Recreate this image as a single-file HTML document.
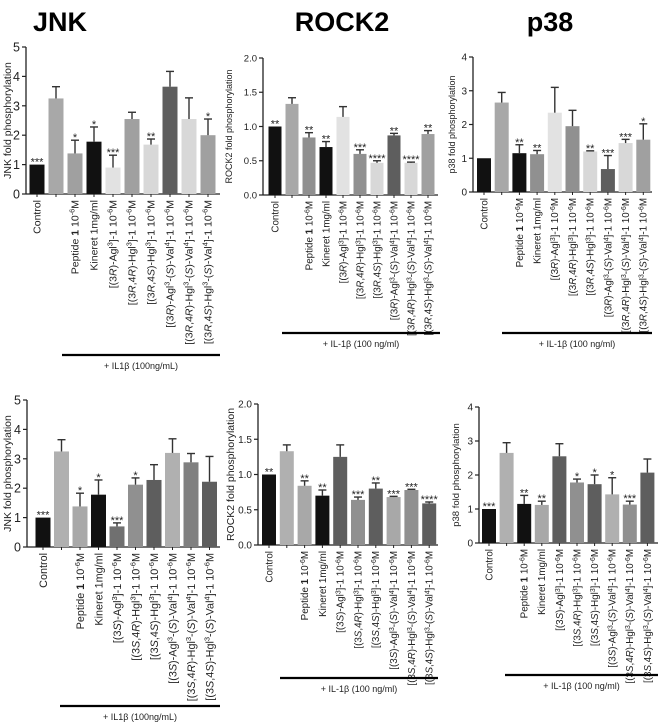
<!DOCTYPE html>
<html><head><meta charset="utf-8"><style>
html,body{margin:0;padding:0;background:#fff;}
svg{display:block;font-family:"Liberation Sans",sans-serif;}
</style></head><body>
<svg id="fig" width="661" height="725" viewBox="0 0 661 725">
<text x="60" y="31" font-size="27" font-weight="bold" text-anchor="middle">JNK</text>
<text x="342" y="31" font-size="27" font-weight="bold" text-anchor="middle">ROCK2</text>
<text x="550" y="31" font-size="27" font-weight="bold" text-anchor="middle">p38</text>
</svg>
<script>
const labelsR = ["Control","","Peptide <b>1</b> 10<sup>-6</sup>M","Kineret 1mg/ml","[(3<i>R</i>)-Agl<sup>3</sup>]-1 10<sup>-6</sup>M","[(3<i>R</i>,4<i>R</i>)-Hgl<sup>3</sup>]-1 10<sup>-6</sup>M","[(3<i>R</i>,4<i>S</i>)-Hgl<sup>3</sup>]-1 10<sup>-6</sup>M","[(3<i>R</i>)-Agl<sup>3</sup>-(<i>S</i>)-Val<sup>4</sup>]-1 10<sup>-6</sup>M","[(3<i>R</i>,4<i>R</i>)-Hgl<sup>3</sup>-(<i>S</i>)-Val<sup>4</sup>]-1 10<sup>-6</sup>M","[(3<i>R</i>,4<i>S</i>)-Hgl<sup>3</sup>-(<i>S</i>)-Val<sup>4</sup>]-1 10<sup>-6</sup>M"];
const labelsS = ["Control","","Peptide <b>1</b> 10<sup>-6</sup>M","Kineret 1mg/ml","[(3<i>S</i>)-Agl<sup>3</sup>]-1 10<sup>-6</sup>M","[(3<i>S</i>,4<i>R</i>)-Hgl<sup>3</sup>]-1 10<sup>-6</sup>M","[(3<i>S</i>,4<i>S</i>)-Hgl<sup>3</sup>]-1 10<sup>-6</sup>M","[(3<i>S</i>)-Agl<sup>3</sup>-(<i>S</i>)-Val<sup>4</sup>]-1 10<sup>-6</sup>M","[(3<i>S</i>,4<i>R</i>)-Hgl<sup>3</sup>-(<i>S</i>)-Val<sup>4</sup>]-1 10<sup>-6</sup>M","[(3<i>S</i>,4<i>S</i>)-Hgl<sup>3</sup>-(<i>S</i>)-Val<sup>4</sup>]-1 10<sup>-6</sup>M"];

const jnkTopValues = [1,3.25,1.38,1.78,0.9,2.55,1.68,3.65,2.55,2.0];
const jnkTopErr = [1,3.65,1.83,2.28,1.32,2.78,1.87,4.17,3.27,2.55];
const jnkTopStars = ["***","","*","*","***","","**","","","*"];
const jnkTopColors = ["#111","#a8a8a8","#a0a0a0","#111","#e2e2e2","#a0a0a0","#d8d8d8","#5e5e5e","#d8d8d8","#a0a0a0"];
const jnkTicks = [0,1,2,3,4,5];

const rockTopValues = [1,1.33,0.84,0.70,1.14,0.60,0.47,0.87,0.47,0.89];
const rockTopErr = [1,1.42,0.91,0.78,1.29,0.66,0.50,0.90,0.48,0.94];
const rockTopStars = ["**","","**","**","","***","****","**","****","**"];
const rockTopColors = ["#111","#a8a8a8","#909090","#111","#e2e2e2","#909090","#d8d8d8","#5e5e5e","#d8d8d8","#a0a0a0"];
const rockTicks = [0,0.5,1.0,1.5,2.0];

const p38TopValues = [1,2.65,1.15,1.12,2.35,1.95,1.2,0.68,1.45,1.55];
const p38TopErr = [1,2.95,1.4,1.23,3.1,2.42,1.22,1.08,1.56,2.02];
const p38TopStars = ["","","**","**","","","**","***","***","*"];
const p38TopColors = ["#111","#a8a8a8","#111","#909090","#e2e2e2","#909090","#d8d8d8","#5e5e5e","#d8d8d8","#a0a0a0"];
const p38Ticks = [0,1,2,3,4];

const jnkBotValues = [1,3.25,1.38,1.78,0.7,2.12,2.28,3.2,2.88,2.22];
const jnkBotErr = [1,3.65,1.83,2.28,0.82,2.35,2.8,3.68,3.18,3.08];
const jnkBotStars = ["***","","*","*","***","*","","","",""];
const jnkBotColors = ["#111","#b0b0b0","#a8a8a8","#111","#707070","#909090","#5e5e5e","#b0b0b0","#808080","#5e5e5e"];

const rockBotValues = [1,1.33,0.84,0.70,1.25,0.64,0.80,0.68,0.78,0.59];
const rockBotErr = [1,1.42,0.91,0.78,1.42,0.68,0.88,0.69,0.79,0.61];
const rockBotStars = ["**","","**","**","","***","**","***","***","****"];
const rockBotColors = ["#111","#b0b0b0","#a8a8a8","#111","#5e5e5e","#909090","#5e5e5e","#a8a8a8","#909090","#5e5e5e"];

const p38BotValues = [1,2.65,1.15,1.12,2.55,1.78,1.73,1.43,1.13,2.07];
const p38BotErr = [1,2.95,1.4,1.23,2.92,1.88,2.0,1.92,1.23,2.47];
const p38BotStars = ["***","","**","**","","*","*","*","***",""];
const p38BotColors = ["#111","#b0b0b0","#111","#a8a8a8","#5e5e5e","#909090","#5e5e5e","#b0b0b0","#909090","#5e5e5e"];

const NS = "http://www.w3.org/2000/svg";
const svg = document.getElementById('fig');
function mk(tag, attrs, parent){const e=document.createElementNS(NS,tag);for(const k in attrs)e.setAttribute(k,attrs[k]);(parent||svg).appendChild(e);return e;}
function fmt(s){return s.replace(/<sup>(.*?)<\/sup>/g,'<tspan baseline-shift="super" font-size="0.7em">$1</tspan>').replace(/<i>(.*?)<\/i>/g,'<tspan font-style="italic">$1</tspan>').replace(/<b>(.*?)<\/b>/g,'<tspan font-weight="bold">$1</tspan>');}

function panel(c){
  const g = mk('g',{});
  
  
  const y = v => c.y0 - v * (c.y0 - c.yTop) / c.max;
  const x = i => c.x0 + i * c.step;
  const ax = mk('line',{x1:c.ax,y1:y(c.max),x2:c.ax,y2:c.y0,stroke:'#222','stroke-width':1.3},g);
  
  
  const xa = mk('line',{x1:c.ax,y1:c.y0,x2:c.xEnd,y2:c.y0,stroke:'#222','stroke-width':1.3},g);
  
  
  c.ticks.forEach(t=>{
    mk('line',{x1:c.ax-4,y1:y(t),x2:c.ax,y2:y(t),stroke:'#222','stroke-width':1.2},g);
    const tl = mk('text',{x:c.ax-6,y:y(t)+c.tfs*0.36,'font-size':c.tfs,'text-anchor':'end',fill:'#222'},g);
    tl.textContent = c.tickFmt(t);
    
    
  });
  const yt = mk('text',{x:0,y:0,'font-size':c.yfs,'text-anchor':'middle',fill:'#222',transform:`translate(${c.ytX},${(y(c.max)+c.y0)/2}) rotate(-90)`},g);
  yt.textContent = c.ytitle;
  
  
  c.values.forEach((v,i)=>{
    const cx = x(i);
    const b = mk('rect',{x:cx-c.bw/2,y:y(v),width:c.bw,height:c.y0-y(v),fill:c.colors[i]},g);
    
    
    if(c.err[i] > v + 0.001){
      mk('line',{x1:cx,y1:y(v),x2:cx,y2:y(c.err[i]),stroke:'#333','stroke-width':1.4},g);
      mk('line',{x1:cx-4,y1:y(c.err[i]),x2:cx+4,y2:y(c.err[i]),stroke:'#333','stroke-width':1.4},g);
    }
    mk('line',{x1:cx,y1:c.y0,x2:cx,y2:c.y0+3,stroke:'#222','stroke-width':1},g);
    if(c.stars[i]){
      const s = mk('text',{x:cx,y:y(Math.max(v,c.err[i]))+4,'font-size':11,'text-anchor':'middle',fill:'#222',dy:'-3'},g);
      s.textContent = c.stars[i];
      
      
    }
    if(c.labels[i]){
      const l = mk('text',{x:0,y:0,'font-size':c.lfs,'text-anchor':'end',fill:'#222',transform:`translate(${cx+c.lfs*0.35},${c.y0+6}) rotate(-90)`},g);
      l.innerHTML = fmt(c.labels[i]);
      
      
    }
  });
  const bl = mk('line',{x1:c.lx1,y1:c.ly,x2:c.lx2,y2:c.ly,stroke:'#000','stroke-width':2.2},g);
  
  
  const bt = mk('text',{x:(c.lx1+c.lx2)/2,y:c.ly+14,'font-size':9,'text-anchor':'middle',fill:'#222'},g);
  bt.textContent = c.ltext;
  
  
}
const i0 = t=>String(t), f1 = t=>t.toFixed(1);
panel({name:'jnk-top-chart',values:jnkTopValues,err:jnkTopErr,stars:jnkTopStars,colors:jnkTopColors,labels:labelsR,ticks:jnkTicks,tickFmt:i0,max:5,y0:194,yTop:47,ax:26,xEnd:220,x0:37,step:19,bw:15,tfs:12.5,yfs:10.5,ytX:11,ytitle:'JNK fold phosphorylation',lfs:10.5,lx1:62,lx2:220,ly:355,ltext:'+ IL1β  (100ng/mL)'});
panel({name:'rock2-top-chart',values:rockTopValues,err:rockTopErr,stars:rockTopStars,colors:rockTopColors,labels:labelsR,ticks:rockTicks,tickFmt:f1,max:2,y0:195,yTop:58,ax:263,xEnd:438,x0:275,step:17,bw:13,tfs:9.5,yfs:9,ytX:232,ytitle:'ROCK2 fold phosphorylation',lfs:9.8,lx1:282,lx2:440,ly:333,ltext:'+ IL-1β (100 ng/ml)'});
panel({name:'p38-top-chart',values:p38TopValues,err:p38TopErr,stars:p38TopStars,colors:p38TopColors,labels:labelsR,ticks:p38Ticks,tickFmt:i0,max:4,y0:192,yTop:57,ax:473,xEnd:652,x0:484,step:17.7,bw:14,tfs:10,yfs:9,ytX:455,ytitle:'p38 fold phosphorylation',lfs:9.8,lx1:502,lx2:652,ly:333,ltext:'+ IL-1β (100 ng/ml)'});
panel({name:'jnk-bottom-chart',values:jnkBotValues,err:jnkBotErr,stars:jnkBotStars,colors:jnkBotColors,labels:labelsS,ticks:jnkTicks,tickFmt:i0,max:5,y0:547,yTop:400,ax:27,xEnd:220,x0:43,step:18.5,bw:15,tfs:12.5,yfs:10.5,ytX:11,ytitle:'JNK fold phosphorylation',lfs:10.8,lx1:60,lx2:220,ly:706,ltext:'+ IL1β  (100ng/mL)'});
panel({name:'rock2-bottom-chart',values:rockBotValues,err:rockBotErr,stars:rockBotStars,colors:rockBotColors,labels:labelsS,ticks:rockTicks,tickFmt:f1,max:2,y0:545,yTop:404,ax:258,xEnd:438,x0:269,step:17.8,bw:14,tfs:10,yfs:10.5,ytX:234,ytitle:'ROCK2 fold phosphorylation',lfs:9.8,lx1:280,lx2:438,ly:678,ltext:'+ IL-1β (100 ng/ml)'});
panel({name:'p38-bottom-chart',values:p38BotValues,err:p38BotErr,stars:p38BotStars,colors:p38BotColors,labels:labelsS,ticks:p38Ticks,tickFmt:i0,max:4,y0:543,yTop:407,ax:479,xEnd:658,x0:489,step:17.6,bw:14,tfs:10,yfs:9.5,ytX:459,ytitle:'p38 fold phosphorylation',lfs:9.8,lx1:505,lx2:658,ly:675,ltext:'+ IL-1β (100 ng/ml)'});
</script>
</body></html>
